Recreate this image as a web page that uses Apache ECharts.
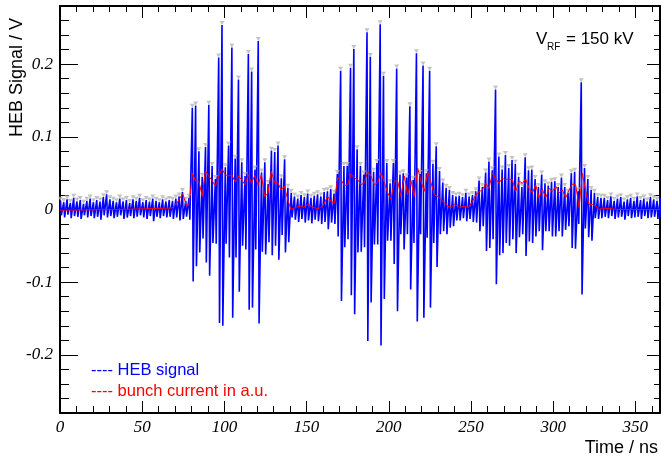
<!DOCTYPE html>
<html><head><meta charset="utf-8">
<script src="https://cdn.jsdelivr.net/npm/echarts@6/dist/echarts.min.js"></script>
<style>html,body{margin:0;padding:0;background:#fff}#c{width:661px;height:457px}</style>
</head><body><div id="c"></div>
<script>
// Sampling of the bunch slots (ns)
const T0 = 0.3, SPACING = 2.005, TROUGH_DELAY = 0.5;

// HEB signal: positive peak per bunch slot (V)
const peaks = [
 0.012,0.010,0.014,0.009,0.016,0.011,0.013,0.008,0.012,0.015,
 0.010,0.013,0.011,0.017,0.021,0.014,0.012,0.010,0.015,0.011,
 0.013,0.009,0.014,0.012,0.016,0.010,0.013,0.011,0.015,0.012,
 0.010,0.014,0.011,0.013,0.012,0.015,0.018,0.024,0.012,0.016,
 0.140,0.143,0.080,0.045,0.086,0.144,0.060,0.042,0.209,0.254,
 0.058,0.088,0.223,0.070,0.179,0.065,0.046,0.214,0.190,0.055,
 0.232,0.051,0.065,0.035,0.081,0.079,0.088,0.043,0.069,0.030,
 0.023,0.018,0.015,0.020,0.017,0.022,0.016,0.019,0.021,0.018,
 0.024,0.025,0.028,0.022,0.049,0.191,0.060,0.060,0.195,0.221,
 0.083,0.060,0.048,0.244,0.210,0.052,0.064,0.255,0.184,0.064,
 0.036,0.064,0.194,0.048,0.050,0.044,0.142,0.041,0.215,0.049,
 0.198,0.050,0.191,0.063,0.087,0.053,0.037,0.030,0.027,0.020,
 0.018,0.019,0.017,0.023,0.018,0.020,0.025,0.040,0.031,0.051,
 0.066,0.054,0.165,0.073,0.055,0.075,0.057,0.068,0.063,0.045,
 0.031,0.072,0.054,0.055,0.042,0.031,0.048,0.036,0.033,0.038,
 0.039,0.031,0.044,0.031,0.023,0.050,0.052,0.025,0.175,0.057,
 0.042,0.027,0.023,0.017,0.016,0.016,0.013,0.018,0.012,0.015,
 0.017,0.011,0.014,0.016,0.012,0.018,0.013,0.015,0.011,0.017,
 0.014,0.012,0.016
];
// HEB signal: negative trough per bunch slot (V)
const troughs = [
 -0.008,-0.011,-0.007,-0.012,-0.009,-0.010,-0.013,-0.008,-0.011,-0.009,
 -0.012,-0.010,-0.014,-0.008,-0.011,-0.009,-0.012,-0.010,-0.008,-0.013,
 -0.011,-0.009,-0.012,-0.010,-0.008,-0.011,-0.013,-0.009,-0.016,-0.010,
 -0.012,-0.009,-0.011,-0.010,-0.013,-0.011,-0.015,-0.013,-0.010,-0.014,
 -0.099,-0.078,-0.059,-0.040,-0.073,-0.091,-0.046,-0.047,-0.156,-0.160,
 -0.047,-0.066,-0.149,-0.066,-0.113,-0.050,-0.055,-0.138,-0.135,-0.055,
 -0.157,-0.058,-0.062,-0.045,-0.063,-0.050,-0.069,-0.035,-0.059,-0.045,
 -0.011,-0.014,-0.017,-0.013,-0.018,-0.015,-0.019,-0.014,-0.016,-0.020,
 -0.017,-0.027,-0.018,-0.020,-0.037,-0.126,-0.052,-0.041,-0.118,-0.144,
 -0.059,-0.058,-0.052,-0.181,-0.128,-0.048,-0.048,-0.187,-0.123,-0.043,
 -0.043,-0.075,-0.140,-0.034,-0.055,-0.034,-0.110,-0.046,-0.154,-0.034,
 -0.149,-0.039,-0.135,-0.046,-0.079,-0.034,-0.030,-0.034,-0.025,-0.023,
 -0.015,-0.015,-0.012,-0.016,-0.013,-0.017,-0.018,-0.030,-0.023,-0.057,
 -0.053,-0.041,-0.103,-0.063,-0.060,-0.046,-0.050,-0.041,-0.060,-0.038,
 -0.034,-0.064,-0.044,-0.046,-0.037,-0.030,-0.056,-0.030,-0.030,-0.037,
 -0.037,-0.030,-0.037,-0.028,-0.023,-0.053,-0.054,-0.020,-0.117,-0.026,
 -0.038,-0.043,-0.012,-0.013,-0.012,-0.010,-0.012,-0.009,-0.013,-0.011,
 -0.010,-0.014,-0.009,-0.012,-0.011,-0.010,-0.013,-0.009,-0.012,-0.011,
 -0.010,-0.013,-0.011
];
// Bunch current (a.u., drawn on the same scale)
const currentTime = [0,35,68,71,74.6,77,78.5,
 80.5,82.5,84.5,86.5,88.5,90.5,92.5,94.5,96.5,98.5,100.5,102.5,104.5,106.5,108.5,110.5,112.5,114.5,116.5,118.5,120.5,122.5,124.5,126.5,128.5,130.5,132.5,134.5,136.5,138.5,140.5,142.5,
 146,148,151,154,157,160,162.8,164.9,166.9,
 168.9,170.9,173,175,177,179,181.1,183.1,185.1,187.2,189.2,191.2,193.2,195.3,197.3,199.3,201.4,203.4,205.4,207.4,209.5,211.5,213.5,215.5,217.6,219.6,221.6,223.7,225.7,227.7,229.7,231.8,233.8,
 236,238,240,243,246.4,248.4,250.9,252.9,
 255,257,259,261,263,265,267,269,271,273,
 275.2,277.2,279.3,281.3,283.3,285.3,287.4,289.4,291.4,293.4,295.5,297.5,299.5,301.6,303.6,305.6,307.6,309.7,311.7,313.7,315.8,317.8,319.8,321.8,323.9,325.9,327.9,329.9,
 340,365];
const currentValue = [-0.001,0.0,0.002,0.008,0.022,0.005,0.006,
 0.050,0.039,0.039,0.018,0.053,0.046,0.040,0.032,0.045,0.056,0.048,0.046,0.048,0.038,0.046,0.041,0.034,0.048,0.036,0.047,0.034,0.048,0.018,0.022,0.053,0.037,0.037,0.027,0.032,0.014,0.000,0.002,
 0.005,0.003,0.007,0.003,0.001,0.005,0.018,0.011,0.009,
 0.0435,0.041,0.033,0.034,0.049,0.0435,0.041,0.034,0.037,0.052,0.046,0.034,0.037,0.051,0.037,0.023,0.014,0.039,0.039,0.018,0.046,0.020,0.040,0.018,0.057,0.039,0.025,0.052,0.037,0.020,0.018,0.014,0.009,
 0.0045,0.003,0.007,0.003,0.0046,0.0025,0.011,0.020,
 0.0245,0.027,0.036,0.029,0.050,0.043,0.036,0.043,0.041,0.042,
 0.041,0.0245,0.039,0.036,0.042,0.029,0.023,0.034,0.016,0.028,0.016,0.029,0.0245,0.032,0.023,0.027,0.016,0.027,0.035,0.034,0.0025,0.050,0.0245,0.007,0.007,0.005,0.000,0.002,
 0.000,0.000];

// Ticks
const xMajorTicks = [0,50,100,150,200,250,300,350];
const xMinorTicks = [10,20,30,40,60,70,80,90,110,120,130,140,160,170,180,190,210,220,230,240,260,270,280,290,310,320,330,340,360];
const yMajorTicks = [-0.2,-0.1,0,0.1,0.2];
const yMinorTicks = [-0.28,-0.26,-0.24,-0.22,-0.18,-0.16,-0.14,-0.12,-0.08,-0.06,-0.04,-0.02,0.02,0.04,0.06,0.08,0.12,0.14,0.16,0.18,0.22,0.24,0.26];

const signalData = [];
const peakData = [];
peaks.forEach((p, k) => {
  const t = T0 + k * SPACING;
  signalData.push([t, p]);
  signalData.push([t + TROUGH_DELAY, troughs[k]]);
  peakData.push([t, p]);
});
const currentData = currentTime.map((t, i) => [t, currentValue[i]]);

const labelFont = {fontFamily:'Liberation Serif', fontStyle:'italic', fontSize:17, color:'#000'};
const X_MIN = 0, X_MAX = 365, Y_MIN = -0.28, Y_MAX = 0.28;

function xAx(pos, ticks, len, main) {
  return {
    type:'value', position:pos, min:X_MIN, max:X_MAX,
    axisLine:{show:main, onZero:false, lineStyle:{color:'#000', width:2}},
    axisTick:{show:true, inside:true, length:len, customValues:ticks, lineStyle:{color:'#000', width:1}},
    axisLabel:(main && pos==='bottom') ? Object.assign({show:true, margin:6, customValues:ticks}, labelFont) : {show:false},
    splitLine:{show:false}
  };
}
function yAx(pos, ticks, len, main) {
  return {
    type:'value', position:pos, min:Y_MIN, max:Y_MAX,
    axisLine:{show:main, onZero:false, lineStyle:{color:'#000', width:2}},
    axisTick:{show:true, inside:true, length:len, customValues:ticks, lineStyle:{color:'#000', width:1}},
    axisLabel:(main && pos==='left') ? Object.assign({show:true, margin:7, customValues:ticks}, labelFont) : {show:false},
    splitLine:{show:false}
  };
}

const xAxes = [
  xAx('bottom', xMajorTicks, 12, true),
  xAx('bottom', xMinorTicks, 7, false),
  xAx('top', xMajorTicks, 12, true),
  xAx('top', xMinorTicks, 6, false)
];
Object.assign(xAxes[0], {
  name:'Time / ns', nameLocation:'end', nameGap:-2, nameMoveOverlap:false,
  nameTextStyle:{fontFamily:'Liberation Sans', fontSize:18, color:'#000', align:'right', verticalAlign:'top', padding:[26,0,0,0]}
});
const yAxes = [
  yAx('left', yMajorTicks, 18, true),
  yAx('left', yMinorTicks, 9, false),
  yAx('right', yMajorTicks, 13, true),
  yAx('right', yMinorTicks, 6, false)
];
Object.assign(yAxes[0], {
  name:'HEB Signal / V', nameLocation:'end', nameGap:-12, nameRotate:90, nameMoveOverlap:false,
  nameTextStyle:{fontFamily:'Liberation Sans', fontSize:18, color:'#000', align:'right', verticalAlign:'bottom', padding:[0,0,34,0]}
});

const chart = echarts.init(document.getElementById('c'), null, {renderer:'canvas'});
chart.setOption({
  animation:false,
  backgroundColor:'#fff',
  grid:{left:60, right:1, top:6, bottom:42, containLabel:false},
  xAxis:xAxes,
  yAxis:yAxes,
  legend:{
    orient:'vertical', left:81, top:357, itemGap:4, itemWidth:0, itemHeight:0,
    icon:'rect', itemStyle:{color:'rgba(0,0,0,0)', borderWidth:0}, selectedMode:false,
    formatter:'---- {name}',
    textStyle:{fontFamily:'Liberation Sans', fontSize:16.5},
    data:[
      {name:'HEB signal', textStyle:{color:'#0000ff'}},
      {name:'bunch current in a.u.', textStyle:{color:'#ff0000'}}
    ]
  },
  graphic:[
    {type:'text', left:536, top:31, style:{text:'V', font:'17px "Liberation Sans"', fill:'#000'}},
    {type:'text', left:547, top:42, style:{text:'RF', font:'10px "Liberation Sans"', fill:'#000'}},
    {type:'text', left:566, top:31, style:{text:'= 150 kV', font:'17px "Liberation Sans"', fill:'#000'}}
  ],
  series:[
    {name:'HEB signal', type:'line', xAxisIndex:0, yAxisIndex:0, data:signalData,
     showSymbol:false, symbol:'none', lineStyle:{color:'#0000ff', width:1.6}, itemStyle:{color:'#0000ff'},
     silent:true, clip:true, z:2},
    {name:'peaks', type:'scatter', xAxisIndex:0, yAxisIndex:0, data:peakData,
     symbol:'triangle', symbolRotate:180, symbolSize:[5,4], symbolOffset:[0,-2],
     itemStyle:{color:'#b4b4b4'}, silent:true, z:3},
    {name:'bunch current in a.u.', type:'line', xAxisIndex:0, yAxisIndex:0, data:currentData,
     showSymbol:false, symbol:'none', lineStyle:{color:'#ff0000', width:1}, itemStyle:{color:'#ff0000'},
     silent:true, clip:true, z:4}
  ]
});
</script>
</body></html>
